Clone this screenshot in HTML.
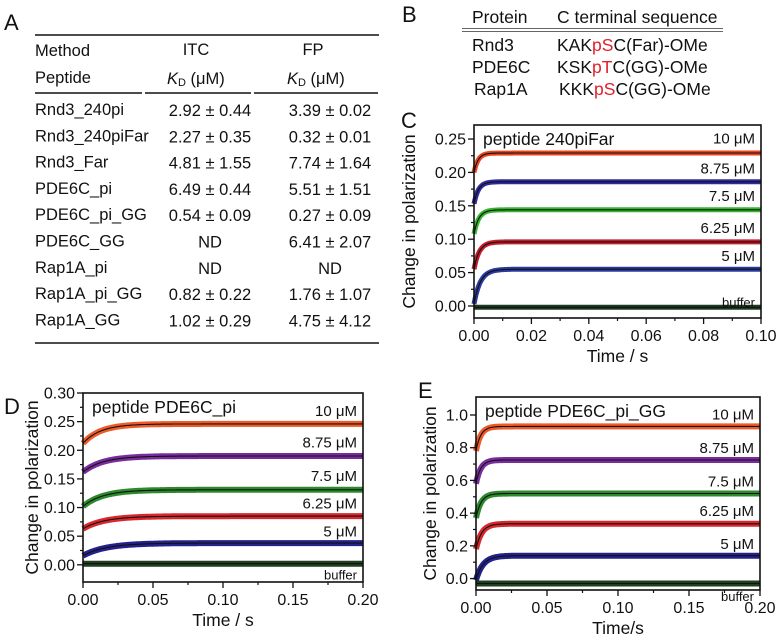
<!DOCTYPE html>
<html><head><meta charset="utf-8">
<style>
body{margin:0;background:#fff;}
svg{display:block;font-family:"Liberation Sans",Arial,sans-serif;}
</style></head>
<body>
<svg id="fig" width="779" height="636" viewBox="0 0 779 636">
<!-- Panel A -->
<g font-size="16.5" fill="#111">
<text x="4" y="30" font-size="22">A</text>
<line x1="35" y1="35" x2="379" y2="35" stroke="#111" stroke-width="1.6"/>
<text x="35" y="56">Method</text>
<text x="196" y="55" text-anchor="middle">ITC</text>
<text x="313" y="55" text-anchor="middle">FP</text>
<text x="35" y="83">Peptide</text>
<text x="167" y="84"><tspan font-style="italic">K</tspan><tspan font-size="11" dy="2">D</tspan><tspan dy="-2"> (μM)</tspan></text>
<text x="287" y="84"><tspan font-style="italic">K</tspan><tspan font-size="11" dy="2">D</tspan><tspan dy="-2"> (μM)</tspan></text>
<line x1="35" y1="93" x2="142" y2="93" stroke="#111" stroke-width="1.5"/>
<line x1="145" y1="93" x2="251" y2="93" stroke="#111" stroke-width="1.5"/>
<line x1="254" y1="93" x2="378" y2="93" stroke="#111" stroke-width="1.5"/>
<g id="tableRows"></g>
<line x1="35" y1="343" x2="379" y2="343" stroke="#111" stroke-width="1.6"/>
</g>
<!-- Panel B -->
<g font-size="17.5" fill="#111">
<text x="402" y="22" font-size="22">B</text>
<text x="472" y="23">Protein</text>
<text x="557" y="23">C terminal sequence</text>
<line x1="462" y1="28.5" x2="723" y2="28.5" stroke="#666" stroke-width="1"/>
<line x1="462" y1="31.5" x2="723" y2="31.5" stroke="#666" stroke-width="1"/>
<text x="472" y="51">Rnd3</text>
<text x="557" y="51">KAK<tspan fill="#e0202a">pS</tspan>C(Far)-OMe</text>
<text x="472" y="73">PDE6C</text>
<text x="557" y="73">KSK<tspan fill="#e0202a">pT</tspan>C(GG)-OMe</text>
<text x="474" y="95">Rap1A</text>
<text x="559" y="95">KKK<tspan fill="#e0202a">pS</tspan>C(GG)-OMe</text>
</g>
<g id="charts"></g>
</svg>
<script>
// Table A data
const tPeptides=["Rnd3_240pi","Rnd3_240piFar","Rnd3_Far","PDE6C_pi","PDE6C_pi_GG","PDE6C_GG","Rap1A_pi","Rap1A_pi_GG","Rap1A_GG"];
const tITC=["2.92 ± 0.44","2.27 ± 0.35","4.81 ± 1.55","6.49 ± 0.44","0.54 ± 0.09","ND","ND","0.82 ± 0.22","1.02 ± 0.29"];
const tFP=["3.39 ± 0.02","0.32 ± 0.01","7.74 ± 1.64","5.51 ± 1.51","0.27 ± 0.09","6.41 ± 2.07","ND","1.76 ± 1.07","4.75 ± 4.12"];

// Panel C data
const cLabels=["10 μM","8.75 μM","7.5 μM","6.25 μM","5 μM","buffer"];
const cPlateau=[0.229,0.186,0.144,0.096,0.055,-0.002];
const cStart=[0.200,0.153,0.108,0.055,0.003,-0.002];
const cRate=[700,650,600,550,450,1];
const cYTicks=[0,0.05,0.10,0.15,0.20,0.25];
const cXTicks=[0,0.02,0.04,0.06,0.08,0.10];
// Panel D data
const dLabels=["10 μM","8.75 μM","7.5 μM","6.25 μM","5 μM","buffer"];
const dPlateau=[0.246,0.19,0.131,0.085,0.038,0.002];
const dStart=[0.212,0.162,0.102,0.063,0.016,0.002];
const dRate=[80,70,70,65,60,1];
const dYTicks=[0,0.05,0.10,0.15,0.20,0.25,0.30];
const dXTicks=[0,0.05,0.10,0.15,0.20];
// Panel E data
const eLabels=["10 μM","8.75 μM","7.5 μM","6.25 μM","5 μM","buffer"];
const ePlateau=[0.93,0.725,0.52,0.335,0.14,-0.03];
const eStart=[0.78,0.58,0.37,0.18,-0.01,-0.03];
const eRate=[300,300,280,250,200,1];
const eYTicks=[0,0.2,0.4,0.6,0.8,1.0];
const eXTicks=[0,0.05,0.10,0.15,0.20];

const NS="http://www.w3.org/2000/svg";
function mk(tag,attrs,parent){const e=document.createElementNS(NS,tag);for(const k in attrs)e.setAttribute(k,attrs[k]);parent.appendChild(e);return e;}

const tr=document.getElementById('tableRows');
tPeptides.forEach((p,i)=>{
  const y=115+i*26.3;
  const a=mk('text',{x:35,y:y},tr);a.textContent=p;
  
  
  const b=mk('text',{x:210,y:y+1,'text-anchor':'middle'},tr);b.textContent=tITC[i];
  
  
  const c=mk('text',{x:330,y:y+1,'text-anchor':'middle'},tr);c.textContent=tFP[i];
  
  
});

function panel(cfg){
  const root=document.getElementById('charts');
  const g=mk('g',{},root);
  
  
  const {L,R,T,B,xMax,yMin,yMax}=cfg;
  const sx=v=>L+(v/xMax)*(R-L);
  const sy=v=>B-(v-yMin)/(yMax-yMin)*(B-T);
  const lab=mk('text',{x:cfg.lx,y:cfg.ly,'font-size':22,fill:'#111'},g);lab.textContent=cfg.letter;
  
  
  cfg.plateau.forEach((pl,i)=>{
    const st=cfg.start[i],k=cfg.rate[i];
    let d='';
    const N=300;
    for(let j=0;j<=N;j++){const t=xMax*j/N;const v=pl+(st-pl)*Math.exp(-k*t);d+=(j?'L':'M')+sx(t).toFixed(1)+' '+sy(v).toFixed(1);}
    const band=mk('path',{d:d,fill:'none',stroke:cfg.colors[i],'stroke-width':cfg.bw,'stroke-linejoin':'round'},g);
    
    
    const fit=mk('path',{d:d,fill:'none',stroke:'#111','stroke-width':1.1},g);
    
    
    const tl=mk('text',{x:R-6,y:sy(cfg.labelY[i])+3,'text-anchor':'end','font-size':cfg.labels[i]=='buffer'?13:15,fill:'#111'},g);
    tl.textContent=cfg.labels[i];
    
    
  });
  const fr=mk('rect',{x:L,y:T,width:R-L,height:B-T,fill:'none',stroke:'#111','stroke-width':1.6},g);
  
  
  const ttl=mk('text',{x:L+9,y:T+20,'font-size':17.5,fill:'#111'},g);ttl.textContent=cfg.title;
  
  
  cfg.yTicks.forEach((v,i)=>{
    const y=sy(v);
    mk('line',{x1:L-6,x2:L,y1:y,y2:y,stroke:'#111','stroke-width':1.3},g);
    const t=mk('text',{x:L-8,y:y+5.5,'text-anchor':'end','font-size':16,fill:'#111'},g);
    t.textContent=v.toFixed(cfg.yDec);
    
    
    if(i<cfg.yTicks.length-1){const m=sy((v+cfg.yTicks[i+1])/2);mk('line',{x1:L-3,x2:L,y1:m,y2:m,stroke:'#111','stroke-width':1.2},g);}
  });
  cfg.xTicks.forEach((v,i)=>{
    const x=sx(v);
    mk('line',{x1:x,x2:x,y1:B,y2:B+6,stroke:'#111','stroke-width':1.3},g);
    const t=mk('text',{x:x,y:B+23,'text-anchor':'middle','font-size':16,fill:'#111'},g);
    t.textContent=v.toFixed(2);
    
    
    if(i<cfg.xTicks.length-1){const m=sx((v+cfg.xTicks[i+1])/2);mk('line',{x1:m,x2:m,y1:B,y2:B+3,stroke:'#111','stroke-width':1.2},g);}
  });
  const xt=mk('text',{x:(L+R)/2,y:B+44,'text-anchor':'middle','font-size':17.5,fill:'#111'},g);xt.textContent=cfg.xTitle;
  
  
  const yc=(T+B)/2;
  const yt=mk('text',{x:cfg.ytx,y:yc,'text-anchor':'middle','font-size':17.5,fill:'#111',transform:`rotate(-90 ${cfg.ytx} ${yc})`},g);yt.textContent='Change in polarization';
  
  
}

panel({name:'panel-c-chart',letter:'C',lx:401,ly:128,L:474,R:761,T:125,B:318,xMax:0.10,yMin:-0.018,yMax:0.271,
  plateau:cPlateau,start:cStart,rate:cRate,labels:cLabels,labelY:[0.248,0.203,0.162,0.114,0.072,0.003],
  colors:['#e8451f','#2f2aa0','#34b52c','#c41c2a','#2b3a9e','#1f3a22'],bw:5,
  yTicks:cYTicks,xTicks:cXTicks,yDec:2,title:'peptide 240piFar',xTitle:'Time / s',ytx:415});
panel({name:'panel-d-chart',letter:'D',lx:4,ly:414,L:83,R:363,T:393,B:582,xMax:0.20,yMin:-0.03,yMax:0.30,
  plateau:dPlateau,start:dStart,rate:dRate,labels:dLabels,labelY:[0.265,0.21,0.152,0.104,0.055,-0.02],
  colors:['#ee5a28','#7a2c9e','#2c8a2c','#d8282e','#23228a','#1f3f1f'],bw:6,
  yTicks:dYTicks,xTicks:dXTicks,yDec:2,title:'peptide PDE6C_pi',xTitle:'Time / s',ytx:38});
panel({name:'panel-e-chart',letter:'E',lx:418,ly:398,L:476,R:760,T:397,B:590,xMax:0.20,yMin:-0.07,yMax:1.11,
  plateau:ePlateau,start:eStart,rate:eRate,labels:eLabels,labelY:[0.99,0.785,0.58,0.4,0.2,-0.12],
  colors:['#ee5a28','#7a2c9e','#2c8a2c','#d8282e','#23228a','#1f3f1f'],bw:6,
  yTicks:eYTicks,xTicks:eXTicks,yDec:1,title:'peptide PDE6C_pi_GG',xTitle:'Time/s',ytx:436});
</script>
</body></html>
